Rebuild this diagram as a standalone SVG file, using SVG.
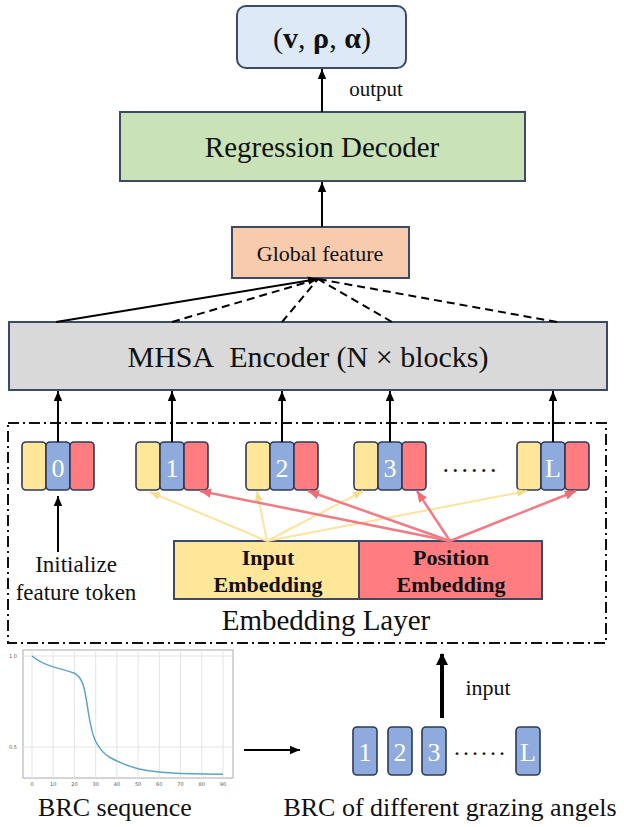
<svg xmlns="http://www.w3.org/2000/svg" width="624" height="827" viewBox="0 0 624 827">
<style>
.t{font-family:"Liberation Serif","Times New Roman",serif;fill:#111}
.box{stroke:#3d4a66;stroke-width:2}
.cy{fill:#ffe699;stroke:#2e3a55;stroke-width:1.6}
.cb{fill:#8faadc;stroke:#2e3a55;stroke-width:1.6}
.cr{fill:#ff7c80;stroke:#2e3a55;stroke-width:1.6}
.dg{font-family:"Liberation Serif","Times New Roman",serif;fill:#fff;font-size:26px;text-anchor:middle}
.ln{stroke:#000;stroke-width:2;fill:none}
.ds{stroke:#000;stroke-width:2;fill:none;stroke-dasharray:8 5}
.ya{stroke:#fbe3a0;stroke-width:2;fill:none}
.ra{stroke:#f27a82;stroke-width:2.5;fill:none}
.grid{stroke:#e3e3e3;stroke-width:1}
.tk{font-family:"DejaVu Sans",sans-serif;font-size:5px;fill:#555;text-anchor:middle}
.dot{fill:#222}
</style>
<defs>
<marker id="ah" markerUnits="userSpaceOnUse" markerWidth="10" markerHeight="10" refX="10" refY="5" orient="auto"><path d="M0,0.8 L10,5 L0,9.2 z" fill="#000"/></marker>
<marker id="ahb" markerUnits="userSpaceOnUse" markerWidth="12" markerHeight="12" refX="11" refY="6" orient="auto"><path d="M0,0 L12,6 L0,12 z" fill="#000"/></marker>
<marker id="ahy" markerUnits="userSpaceOnUse" markerWidth="10" markerHeight="10" refX="10" refY="5" orient="auto"><path d="M0,1 L10,5 L0,9 z" fill="#f7dc88"/></marker>
<marker id="ahr" markerUnits="userSpaceOnUse" markerWidth="11" markerHeight="11" refX="11" refY="5.5" orient="auto"><path d="M0,0.8 L11,5.5 L0,10.2 z" fill="#f06b74"/></marker>
</defs>

<g id="output-node">
<rect x="237" y="6" width="169" height="62" rx="9" fill="#dee9f7" class="box"/>
<text class="t" x="322" y="48" font-size="30" text-anchor="middle">(<tspan font-weight="bold">v</tspan>, <tspan font-weight="bold">ρ</tspan>, <tspan font-weight="bold">α</tspan>)</text>
</g>

<g id="regression-decoder">
<rect x="120" y="112" width="405" height="69" fill="#c9e2b7" class="box"/>
<text class="t" x="322" y="157" font-size="29" text-anchor="middle">Regression Decoder</text>
</g>

<g id="global-feature">
<rect x="232" y="227" width="177" height="51" fill="#f8cbad" class="box"/>
<text class="t" x="320" y="261" font-size="22" text-anchor="middle">Global feature</text>
</g>

<g id="mhsa-encoder">
<rect x="9" y="322" width="598" height="68" fill="#d9d9d9" class="box"/>
<text class="t" x="308" y="367" font-size="30" text-anchor="middle">MHSA&#160; Encoder (N × blocks)</text>
</g>

<g id="embedding-layer">
<rect x="8" y="423" width="598" height="220" fill="none" stroke="#111" stroke-width="2" stroke-dasharray="11 4 2 4"/>
<text class="t" x="326" y="630" font-size="29" text-anchor="middle">Embedding Layer</text>
</g>

<g id="token-0">
<rect class="cy" x="22" y="442" width="24" height="48" rx="4"/>
<rect class="cb" x="46" y="442" width="24" height="48" rx="4"/>
<rect class="cr" x="70" y="442" width="24" height="48" rx="4"/>
<text class="dg" x="58" y="477">0</text>
</g>
<g id="token-1">
<rect class="cy" x="136" y="442" width="24" height="48" rx="4"/>
<rect class="cb" x="160" y="442" width="24" height="48" rx="4"/>
<rect class="cr" x="184" y="442" width="24" height="48" rx="4"/>
<text class="dg" x="172" y="477">1</text>
</g>
<g id="token-2">
<rect class="cy" x="246" y="442" width="24" height="48" rx="4"/>
<rect class="cb" x="270" y="442" width="24" height="48" rx="4"/>
<rect class="cr" x="294" y="442" width="24" height="48" rx="4"/>
<text class="dg" x="282" y="477">2</text>
</g>
<g id="token-3">
<rect class="cy" x="354" y="442" width="24" height="48" rx="4"/>
<rect class="cb" x="378" y="442" width="24" height="48" rx="4"/>
<rect class="cr" x="402" y="442" width="24" height="48" rx="4"/>
<text class="dg" x="390" y="477">3</text>
</g>
<text class="t" x="471" y="472" font-size="26" text-anchor="middle" letter-spacing="3">......</text>
<g id="token-L">
<rect class="cy" x="517" y="442" width="24" height="48" rx="4"/>
<rect class="cb" x="541" y="442" width="24" height="48" rx="4"/>
<rect class="cr" x="565" y="442" width="24" height="48" rx="4"/>
<text class="dg" x="553" y="477">L</text>
</g>

<g id="init-label">
<text class="t" x="76" y="572" font-size="23" text-anchor="middle">Initialize</text>
<text class="t" x="76" y="600" font-size="23" text-anchor="middle">feature token</text>
</g>

<g id="embedding-box">
<rect x="174" y="541" width="185" height="58" fill="#ffe699" class="box"/>
<rect x="359" y="541" width="183" height="58" fill="#ff7c80" class="box"/>
<text class="t" x="268" y="565" font-size="22" font-weight="bold" text-anchor="middle">Input</text>
<text class="t" x="268" y="592" font-size="22" font-weight="bold" text-anchor="middle">Embedding</text>
<text class="t" x="451" y="565" font-size="22" font-weight="bold" text-anchor="middle">Position</text>
<text class="t" x="451" y="592" font-size="22" font-weight="bold" text-anchor="middle">Embedding</text>
</g>

<g id="brc-chart">
<rect x="23" y="650" width="210" height="128" fill="#fff" stroke="#aaa" stroke-width="1"/>
<g class="grid">
<line x1="23" y1="656" x2="233" y2="656"/>
<line x1="23" y1="747" x2="233" y2="747"/>
<line x1="32" y1="650" x2="32" y2="778"/>
<line x1="53.2" y1="650" x2="53.2" y2="778"/>
<line x1="74.4" y1="650" x2="74.4" y2="778"/>
<line x1="95.7" y1="650" x2="95.7" y2="778"/>
<line x1="116.9" y1="650" x2="116.9" y2="778"/>
<line x1="138.1" y1="650" x2="138.1" y2="778"/>
<line x1="159.3" y1="650" x2="159.3" y2="778"/>
<line x1="180.5" y1="650" x2="180.5" y2="778"/>
<line x1="201.8" y1="650" x2="201.8" y2="778"/>
<line x1="223" y1="650" x2="223" y2="778"/>
</g>
<text class="tk" x="13" y="658">1.0</text>
<text class="tk" x="13" y="749">0.5</text>
<text class="tk" x="32" y="786">0</text>
<text class="tk" x="53.2" y="786">10</text>
<text class="tk" x="74.4" y="786">20</text>
<text class="tk" x="95.7" y="786">30</text>
<text class="tk" x="116.9" y="786">40</text>
<text class="tk" x="138.1" y="786">50</text>
<text class="tk" x="159.3" y="786">60</text>
<text class="tk" x="180.5" y="786">70</text>
<text class="tk" x="201.8" y="786">80</text>
<text class="tk" x="223" y="786">90</text>
<path d="M32,656 C38,661 44,664 53.2,666.9 C62,669.5 68,670.5 74.4,673.3 C78,675 80.5,678 82.9,684 C85,690 86.5,700 88.3,712 C90,723 92,734 95.7,741.5 C99,748 104,754 110,757.5 C118,762 126,765.5 138.1,768.8 C150,771.5 162,772.8 180.5,773.5 C200,774 212,774.2 223,774.2" fill="none" stroke="#5fa2c8" stroke-width="1.5"/>
<text class="t" x="115" y="816" font-size="26" text-anchor="middle">BRC sequence</text>
</g>

<g id="brc-angles">
<rect class="cb" x="353" y="727" width="24" height="48" rx="4"/>
<rect class="cb" x="388" y="727" width="24" height="48" rx="4"/>
<rect class="cb" x="422" y="727" width="24" height="48" rx="4"/>
<rect class="cb" x="516" y="727" width="24" height="48" rx="4"/>
<text class="dg" x="365" y="761">1</text>
<text class="dg" x="400" y="761">2</text>
<text class="dg" x="434" y="761">3</text>
<text class="dg" x="528" y="761">L</text>
<text class="t" x="481" y="755" font-size="24" text-anchor="middle" letter-spacing="3">......</text>
<text class="t" x="450" y="816" font-size="26" text-anchor="middle">BRC of different grazing angels</text>
</g>

<g id="connectors">
<line class="ln" x1="322" y1="112" x2="322" y2="69" marker-end="url(#ah)"/>
<text class="t" x="376" y="96" font-size="21" text-anchor="middle">output</text>
<line class="ln" x1="322" y1="227" x2="322" y2="182" marker-end="url(#ah)"/>
<line class="ln" x1="56" y1="322" x2="318" y2="279" marker-end="url(#ah)"/>
<line class="ds" x1="172" y1="322" x2="318" y2="279"/>
<line class="ds" x1="282" y1="322" x2="318" y2="279"/>
<line class="ds" x1="392" y1="322" x2="318" y2="279"/>
<line class="ds" x1="557" y1="322" x2="318" y2="279"/>
<line class="ln" x1="58" y1="442" x2="58" y2="391" marker-end="url(#ah)"/>
<line class="ln" x1="172" y1="442" x2="172" y2="391" marker-end="url(#ah)"/>
<line class="ln" x1="282" y1="442" x2="282" y2="391" marker-end="url(#ah)"/>
<line class="ln" x1="390" y1="442" x2="390" y2="391" marker-end="url(#ah)"/>
<line class="ln" x1="553" y1="442" x2="553" y2="391" marker-end="url(#ah)"/>
<line class="ln" x1="58" y1="552" x2="58" y2="496" marker-end="url(#ah)"/>
<line class="ya" x1="267" y1="541" x2="150" y2="492" marker-end="url(#ahy)"/>
<line class="ya" x1="267" y1="541" x2="257" y2="491" marker-end="url(#ahy)"/>
<line class="ya" x1="267" y1="541" x2="363" y2="491" marker-end="url(#ahy)"/>
<line class="ya" x1="267" y1="541" x2="527" y2="491" marker-end="url(#ahy)"/>
<line class="ra" x1="450" y1="541" x2="200" y2="491" marker-end="url(#ahr)"/>
<line class="ra" x1="450" y1="541" x2="308" y2="491" marker-end="url(#ahr)"/>
<line class="ra" x1="450" y1="541" x2="417" y2="491" marker-end="url(#ahr)"/>
<line class="ra" x1="450" y1="541" x2="576" y2="491" marker-end="url(#ahr)"/>
<line class="ln" x1="244" y1="750" x2="300" y2="750" marker-end="url(#ah)"/>
<line x1="442" y1="718" x2="442" y2="654" stroke="#000" stroke-width="4" marker-end="url(#ahb)"/>
<text class="t" x="488" y="695" font-size="22" text-anchor="middle">input</text>
</g>
</svg>
